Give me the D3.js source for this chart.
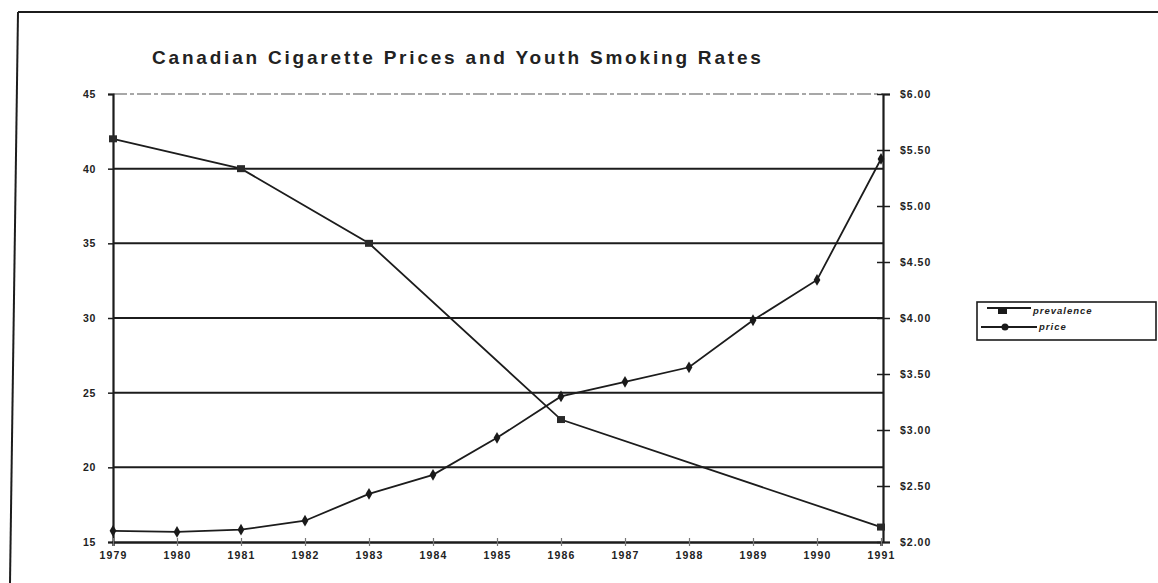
<!DOCTYPE html>
<html>
<head>
<meta charset="utf-8">
<script src="https://cdn.jsdelivr.net/npm/d3@7"></script>
<style>
  html, body { margin: 0; padding: 0; background: #fff; }
  svg { display: block; }
  text { font-family: "Liberation Sans", Arial, Helvetica, sans-serif; fill: #222; }
</style>
</head>
<body>
<svg id="chart" width="1158" height="583"></svg>
<script>
// ---- data ----
const title = "Canadian Cigarette Prices and Youth Smoking Rates";
const yearTicks = [1979, 1980, 1981, 1982, 1983, 1984, 1985, 1986, 1987, 1988, 1989, 1990, 1991];
const prevalenceYears = [1979, 1981, 1983, 1986, 1991];
const prevalence = [42, 40, 35, 23.2, 16];
const priceYears = [1979, 1980, 1981, 1982, 1983, 1984, 1985, 1986, 1987, 1988, 1989, 1990, 1991];
const price = [2.10, 2.09, 2.11, 2.19, 2.43, 2.60, 2.93, 3.30, 3.43, 3.56, 3.98, 4.34, 5.42];
const leftTicks = [15, 20, 25, 30, 35, 40, 45];
const rightTicks = [2.0, 2.5, 3.0, 3.5, 4.0, 4.5, 5.0, 5.5, 6.0];
const seriesNames = ["prevalence", "price"];

// ---- layout ----
const svg = d3.select("#chart");
const plot = { left: 113, right: 883, top: 94, bottom: 542 };
const ink = "#1c1c1c";

const x = d3.scaleLinear().domain([1979, 1991]).range([plot.left, plot.right - 2]);
const yL = d3.scaleLinear().domain([15, 45]).range([plot.bottom, plot.top]);
const yR = d3.scaleLinear().domain([2, 6]).range([plot.bottom, plot.top]);

// outer frame (scanned page border)
svg.append("line").attr("x1", 18).attr("y1", 12).attr("x2", 1158).attr("y2", 12)
  .attr("stroke", ink).attr("stroke-width", 2);
svg.append("line").attr("x1", 18).attr("y1", 12).attr("x2", 10).attr("y2", 583)
  .attr("stroke", ink).attr("stroke-width", 2);

// title
svg.append("text")
  .attr("x", 152).attr("y", 64)
  .attr("font-size", 19).attr("font-weight", "bold")
  .attr("letter-spacing", 2.8)
  .text(title);

// gridlines
svg.append("g").selectAll("line").data(leftTicks.filter(d => d > 15)).join("line")
  .attr("x1", plot.left).attr("x2", plot.right)
  .attr("y1", d => yL(d)).attr("y2", d => yL(d))
  .attr("stroke", d => d === 45 ? "#8a8a8a" : ink)
  .attr("stroke-width", d => d === 45 ? 1.3 : 2)
  .attr("stroke-dasharray", d => d === 45 ? "14,3,4,3" : null);

// left axis
const gL = svg.append("g").attr("transform", `translate(${plot.left},0)`)
  .call(d3.axisLeft(yL).tickValues(leftTicks).tickSize(5).tickPadding(12).tickFormat(d3.format("d")));
gL.select(".domain").attr("stroke", ink).attr("stroke-width", 2.2);
gL.selectAll(".tick line").attr("stroke", ink).attr("stroke-width", 1.5);
gL.selectAll(".tick text").attr("font-size", 10.5).attr("font-weight", "bold")
  .attr("fill", "#333").attr("letter-spacing", 0.6).style("font-family", "'Liberation Sans', Arial, sans-serif");

// right axis
const gR = svg.append("g").attr("transform", `translate(${plot.right},0)`)
  .call(d3.axisRight(yR).tickValues(rightTicks).tickSize(7).tickPadding(10).tickFormat(d => "$" + d.toFixed(2)));
gR.select(".domain").attr("stroke", ink).attr("stroke-width", 2.2);
gR.selectAll(".tick line").attr("x1", -6).attr("stroke", ink).attr("stroke-width", 1.5);
gR.selectAll(".tick text").attr("font-size", 10.5).attr("font-weight", "bold")
  .attr("fill", "#333").attr("letter-spacing", 1).style("font-family", "'Liberation Sans', Arial, sans-serif");

// bottom axis
const gB = svg.append("g").attr("transform", `translate(0,${plot.bottom})`)
  .call(d3.axisBottom(x).tickValues(yearTicks).tickSize(4).tickPadding(6).tickFormat(d3.format("d")));
gB.select(".domain").attr("stroke", ink).attr("stroke-width", 2.4);
gB.selectAll(".tick line").attr("y1", -4).attr("stroke", "#777").attr("stroke-width", 1.2);
gB.selectAll(".tick text").attr("font-size", 10.5).attr("font-weight", "bold")
  .attr("fill", "#333").attr("letter-spacing", 1.2).style("font-family", "'Liberation Sans', Arial, sans-serif");

// prevalence line
const prevData = prevalenceYears.map((yr, i) => ({ yr, v: prevalence[i] }));
svg.append("path").datum(prevData)
  .attr("fill", "none").attr("stroke", ink).attr("stroke-width", 1.8)
  .attr("d", d3.line().x(d => x(d.yr)).y(d => yL(d.v)));
svg.append("g").selectAll("rect").data(prevData).join("rect")
  .attr("x", d => x(d.yr) - 4).attr("y", d => yL(d.v) - 3.5)
  .attr("width", 8).attr("height", 7).attr("fill", "#2a2a2a");

// price line
const priceData = priceYears.map((yr, i) => ({ yr, v: price[i] }));
svg.append("path").datum(priceData)
  .attr("fill", "none").attr("stroke", ink).attr("stroke-width", 1.8)
  .attr("d", d3.line().x(d => x(d.yr)).y(d => yR(d.v)));
svg.append("g").selectAll("path").data(priceData).join("path")
  .attr("transform", d => `translate(${x(d.yr)},${yR(d.v)})`)
  .attr("d", d3.symbol().type(d3.symbolDiamond).size(40))
  .attr("fill", "#1a1a1a");

// legend
const lg = svg.append("g").attr("transform", "translate(977,302)");
lg.append("rect").attr("x", 0).attr("y", 0).attr("width", 179).attr("height", 38)
  .attr("fill", "#fff").attr("stroke", ink).attr("stroke-width", 1.6);
// prevalence entry
lg.append("line").attr("x1", 10).attr("x2", 54).attr("y1", 6).attr("y2", 6)
  .attr("stroke", ink).attr("stroke-width", 1.8);
lg.append("rect").attr("x", 21).attr("y", 6).attr("width", 9).attr("height", 6).attr("fill", "#1a1a1a");
lg.append("text").attr("x", 56).attr("y", 12).attr("font-size", 9.5).attr("font-weight", "bold")
  .attr("font-style", "italic").attr("letter-spacing", 1).text(seriesNames[0]);
// price entry
lg.append("line").attr("x1", 4).attr("x2", 60).attr("y1", 25).attr("y2", 25)
  .attr("stroke", ink).attr("stroke-width", 1.8);
lg.append("circle").attr("cx", 28).attr("cy", 25).attr("r", 3.5).attr("fill", "#1a1a1a");
lg.append("text").attr("x", 62).attr("y", 28).attr("font-size", 9.5).attr("font-weight", "bold")
  .attr("font-style", "italic").attr("letter-spacing", 1).text(seriesNames[1]);
</script>
</body>
</html>
